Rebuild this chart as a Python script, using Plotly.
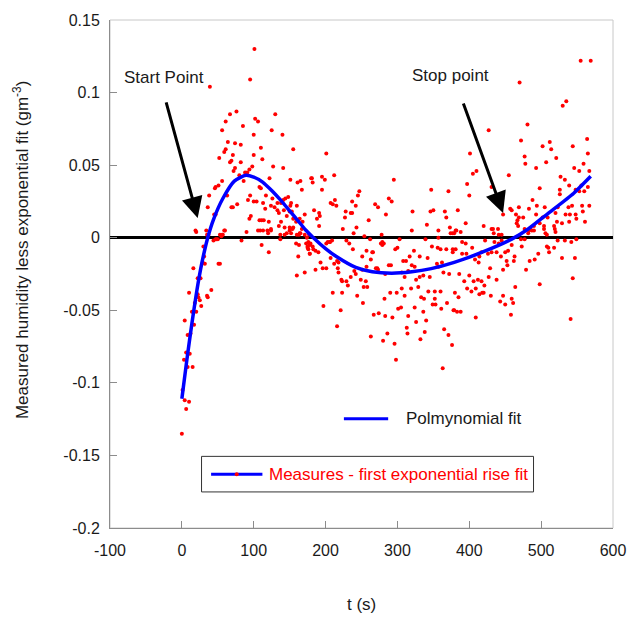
import plotly.graph_objects as go

# ---- data ----
t_meas = [0,6,4,10,1,8,15,3,6,11,8,12,4,17,14,20,18,27,23,25,10,22,35,36,41,22,26,16,29,32,31,51,53,30,37,34,44,47,50,57,59,55,19,83,90,106,109,113,120,124,111,121,137,146,150,154,160,164,167,171,159,163,173,175,176,179,178,162,160,171,
          101,95,39,76,67,61,102,106,85,130,56,125,100,140,64,74,82,110,61,59,71,100,155,52,112,69,67,82,98,94,127,141,74,72,88,91,80,122,151,161,165,56,51,47,46,86,108,110,167,180,63,95,148,144,141,117,126,38,100,104,92,77,113,133,138,152,151,160,124,129,36,45,47,71,69,116,133,135,142,146,150,153,155,159,164,168,171,96,94,108,111,114,121,138,143,150,155,135,124,119,143,152,163,165,60,56,53,48,137,20,35,
          201,181,182,195,199,212,295,195,247,245,347,371,207,210,213,215,237,242,288,292,269,273,184,191,192,188,191,228,235,237,227,224,243,260,284,321,346,350,366,368,341,320,357,373,374,377,239,254,262,278,303,339,357,203,206,209,229,233,238,257,266,277,279,281,297,300,323,348,356,360,368,377,
          174,176,178,182,183,186,190,175,178,206,201,177,193,186,196,201,207,212,216,218,217,218,222,223,229,231,235,240,242,249,256,258,253,244,252,210,223,197,221,216,251,263,265,272,273,279,288,291,308,312,317,331,342,324,315,306,310,331,326,336,345,355,362,364,372,357,377,282,290,299,306,310,319,329,333,337,343,352,360,352,349,353,369,361,378,267,274,283,293,301,305,315,324,336,326,340,313,314,338,332,365,371,376,263,286,280,296,298,363,251,257,270,283,320,
          386,393,400,406,412,417,421,427,438,397,403,409,418,414,420,380,385,430,447,459,443,450,461,379,383,388,409,458,464,479,498,544,541,390,395,404,422,435,441,445,450,454,459,473,463,462,452,453,447,444,438,431,426,417,414,408,413,429,381,390,396,484,491,496,510,518,529,547,542,549,511,508,379,382,388,433,434,440,445,472,477,483,490,504,506,508,519,520,523,533,
          555,569,470,530,535,481,427,472,502,512,514,564,544,565,477,478,521,507,493,546,559,553,567,401,410,405,455,527,533,539,556,548,553,560,565,526,526,498,488,494,400,397,431,469,483,505,523,538,543,557,558,567,465,469,459,475,493,502,509,520,534,540,539,548,549,561,522,529,504,518,468,477,485,487,490,498,482,467,466,447,457,420,431,441,395,384,381]

y_meas = [-0.135,-0.118,-0.112,-0.113,-0.105,-0.089,-0.089,-0.084,-0.079,-0.080,-0.067,-0.066,-0.057,-0.060,-0.051,-0.051,-0.045,-0.047,-0.041,-0.043,-0.038,-0.039,-0.040,-0.041,-0.036,-0.028,-0.028,-0.021,-0.017,-0.018,-0.013,-0.018,-0.018,-0.006,0.002,0.005,-0.002,-0.001,-0.001,0.002,0.005,0.001,0.005,-0.002,0.004,0.005,0.005,0.005,0.003,0.005,-0.005,-0.010,0.002,0.003,0.005,0.006,0.002,0.003,0.006,0.002,-0.004,-0.005,-0.004,-0.006,-0.008,-0.004,-0.011,-0.013,-0.026,-0.024,
          0.130,0.109,0.104,0.087,0.085,0.080,0.082,0.080,0.077,0.085,0.074,0.074,0.071,0.071,0.066,0.065,0.064,0.062,0.061,0.059,0.057,0.057,0.061,0.055,0.054,0.053,0.052,0.052,0.049,0.047,0.049,0.048,0.048,0.046,0.045,0.045,0.043,0.041,0.040,0.038,0.039,0.039,0.036,0.035,0.034,0.039,0.035,0.034,0.033,0.041,0.029,0.029,0.028,0.027,0.026,0.029,0.027,0.029,0.025,0.025,0.026,0.023,0.024,0.024,0.024,0.024,0.022,0.022,0.022,0.021,0.021,0.016,0.016,0.021,0.021,0.020,0.019,0.017,0.019,0.015,0.018,0.018,0.013,0.011,0.013,0.011,0.016,0.015,0.013,0.012,0.012,0.012,0.011,0.011,0.007,0.007,0.007,0.008,0.006,0.005,0.002,0.003,0.002,0.003,0.005,0.002,0.002,-0.001,-0.001,0.004,0.002,
          0.058,0.041,0.038,0.042,0.040,0.043,0.040,0.033,0.032,0.029,0.033,0.032,0.024,0.023,0.026,0.022,0.025,0.022,0.027,0.025,0.023,0.021,0.019,0.017,0.015,0.013,0.008,0.018,0.017,0.017,0.014,0.006,0.007,0.012,0.016,0.018,0.018,0.019,0.018,0.014,0.009,0.005,0.005,0.007,0.003,0.003,0.003,0.001,-0.001,0.002,-0.001,-0.001,0.000,-0.003,-0.003,-0.002,-0.002,-0.004,-0.008,-0.009,-0.010,-0.004,-0.005,-0.004,-0.008,-0.007,-0.009,-0.006,-0.007,-0.008,-0.008,-0.008,
          0.000,-0.003,-0.005,-0.006,-0.008,-0.009,-0.010,-0.007,-0.011,-0.003,-0.004,0.002,-0.017,-0.022,-0.021,-0.021,-0.014,-0.018,-0.016,-0.017,-0.021,-0.024,-0.029,-0.030,-0.030,-0.033,-0.027,-0.023,-0.025,-0.029,-0.030,-0.034,-0.034,-0.040,-0.045,-0.038,-0.038,-0.047,-0.050,-0.061,-0.013,-0.015,-0.010,-0.021,-0.022,-0.003,-0.019,-0.019,-0.016,-0.016,-0.013,-0.013,-0.014,-0.020,-0.023,-0.024,-0.027,-0.027,-0.029,-0.026,-0.027,-0.018,-0.017,-0.024,-0.025,-0.020,-0.010,-0.042,-0.038,-0.038,-0.035,-0.040,-0.035,-0.034,-0.041,-0.042,-0.037,-0.037,-0.037,-0.042,-0.046,-0.046,-0.045,-0.049,-0.050,-0.053,-0.052,-0.054,-0.055,-0.049,-0.048,-0.054,-0.048,-0.051,-0.058,-0.057,-0.062,-0.066,-0.065,-0.070,-0.063,-0.067,-0.074,-0.068,-0.066,-0.071,-0.073,-0.084,-0.090,-0.022,-0.020,-0.021,-0.025,-0.019,
          -0.025,-0.030,-0.026,-0.030,-0.029,-0.030,-0.033,-0.027,-0.029,-0.035,-0.037,-0.035,-0.038,-0.039,-0.038,-0.038,-0.041,-0.040,-0.040,-0.042,-0.044,-0.046,-0.045,-0.050,-0.051,-0.051,-0.055,-0.053,-0.034,-0.022,-0.032,-0.028,-0.056,-0.003,-0.004,-0.007,-0.002,-0.003,-0.004,-0.002,-0.010,-0.009,-0.005,-0.006,-0.013,-0.016,-0.016,-0.019,-0.022,-0.013,-0.010,-0.010,-0.011,-0.010,-0.013,-0.015,-0.017,-0.021,-0.008,-0.011,-0.011,-0.016,-0.015,-0.011,-0.007,-0.007,-0.014,-0.014,-0.003,-0.001,-0.010,-0.006,0.003,0.005,0.004,0.006,0.003,0.006,0.002,-0.001,-0.001,0.005,0.005,0.006,0.003,0.002,0.006,0.004,-0.002,-0.002,
          0.122,0.122,0.107,0.091,0.094,0.078,0.074,0.067,0.063,0.066,0.061,0.068,0.063,0.058,0.056,0.051,0.055,0.052,0.048,0.048,0.051,0.046,0.046,0.058,0.046,0.044,0.043,0.042,0.040,0.036,0.036,0.033,0.032,0.032,0.035,0.033,0.030,0.034,0.026,0.022,0.029,0.037,0.035,0.021,0.020,0.021,0.021,0.021,0.022,0.022,0.018,0.022,0.016,0.014,0.019,0.014,0.016,0.014,0.014,0.017,0.016,0.016,0.011,0.016,0.013,0.011,0.011,0.010,0.008,0.008,0.008,0.006,0.006,0.005,0.008,0.010,0.003,0.012,0.010,0.016,0.020,0.008,0.006,0.002,0.010,0.019,0.005]

t_fit = [0, 7, 14, 21, 28, 36, 44, 57, 73, 89, 100, 112, 125, 139, 150, 162, 172, 183, 200, 215, 242, 265, 292, 320, 347, 379, 418, 459, 482, 509, 545, 569]
y_fit = [-0.111, -0.084, -0.059, -0.036, -0.017, 0.000, 0.0125, 0.027, 0.039, 0.043, 0.0418, 0.0385, 0.0325, 0.0250, 0.0185, 0.0115, 0.0055, 0.000, -0.0075, -0.0130, -0.0205, -0.0235, -0.0245, -0.0235, -0.0213, -0.0170, -0.0100, -0.0010, 0.0060, 0.0165, 0.0305, 0.0423]

x_ticks = [-100, 0, 100, 200, 300, 400, 500, 600]
x_tick_text = ["-100", "0", "100", "200", "300", "400", "500", "600"]
y_ticks = [-0.2, -0.15, -0.1, -0.05, 0, 0.05, 0.1, 0.15]
y_tick_text = ["-0.2", "-0.15", "-0.1", "-0.05", "0", "0.05", "0.1", "0.15"]

FONT = "Liberation Sans, Arial, sans-serif"
TXT = "#1a1a1a"
FS = 16     # tick labels
FT = 17     # other texts

fig = go.Figure()
fig.add_trace(go.Scatter(x=t_meas, y=y_meas, mode="markers",
                         marker=dict(color="#ff0000", size=4, line=dict(width=0)),
                         showlegend=False, hoverinfo="skip"))
fig.add_trace(go.Scatter(x=t_fit, y=y_fit, mode="lines",
                         line=dict(color="#0000ff", width=3.5, shape="spline", smoothing=0.6),
                         showlegend=False, hoverinfo="skip"))

axis_common = dict(showgrid=False, showline=True, linecolor="#8c8c8c", linewidth=1,
                   ticks="inside", ticklen=7, tickcolor="#8c8c8c", tickwidth=1,
                   tickfont=dict(family=FONT, size=FS, color=TXT))

fig.update_xaxes(range=[-100, 600], tickvals=x_ticks, ticktext=x_tick_text,
                 zeroline=False, ticklabelstandoff=8, **axis_common)
fig.update_yaxes(range=[-0.2, 0.15], tickvals=y_ticks, ticktext=y_tick_text,
                 zeroline=True, zerolinecolor="#000000", zerolinewidth=2.5,
                 ticklabelstandoff=6, **axis_common)

shapes = [
    dict(type="rect", xref="paper", yref="paper", x0=0, x1=1, y0=0, y1=1,
         line=dict(color="#c8c8c8", width=1), layer="below"),
    # polynomial legend line
    dict(type="line", xref="paper", yref="paper", x0=0.465, x1=0.553, y0=0.215, y1=0.215,
         line=dict(color="#0000ff", width=3)),
    # boxed legend
    dict(type="rect", xref="paper", yref="paper", x0=0.182, x1=0.842, y0=0.071, y1=0.141,
         line=dict(color="#333333", width=1), fillcolor="white"),
    dict(type="line", xref="paper", yref="paper", x0=0.201, x1=0.303, y0=0.106, y1=0.106,
         line=dict(color="#0000ff", width=3)),
    dict(type="circle", xref="paper", yref="paper", xsizemode="pixel", ysizemode="pixel",
         xanchor=0.252, yanchor=0.106, x0=-2, x1=2, y0=-2, y1=2,
         fillcolor="#ff0000", line=dict(width=0)),
]

annotations = [
    dict(x=22, y=0.0136, ax=-22.4, ay=0.0943, xref="x", yref="y", axref="x", ayref="y",
         text="", showarrow=True, arrowhead=2, arrowsize=1.4, arrowwidth=3, arrowcolor="#000000"),
    dict(x=447, y=0.0171, ax=391, ay=0.0935, xref="x", yref="y", axref="x", ayref="y",
         text="", showarrow=True, arrowhead=2, arrowsize=1.4, arrowwidth=3, arrowcolor="#000000"),
    dict(x=-25.4, y=0.1107, xref="x", yref="y", text="Start Point", showarrow=False,
         font=dict(family=FONT, size=FT, color=TXT)),
    dict(x=374.5, y=0.112, xref="x", yref="y", text="Stop point", showarrow=False,
         font=dict(family=FONT, size=FT, color=TXT)),
    dict(x=0.584, y=0.215, xref="paper", yref="paper", text="Polmynomial fit", showarrow=False,
         xanchor="left", yanchor="middle", font=dict(family=FONT, size=FT, color=TXT)),
    dict(x=0.3125, y=0.106, xref="paper", yref="paper", text="Measures - first exponential rise fit",
         showarrow=False, xanchor="left", yanchor="middle",
         font=dict(family=FONT, size=FT, color="#ff0000")),
    dict(x=0.5, y=-0.150, xref="paper", yref="paper", text="t (s)", showarrow=False,
         xanchor="center", yanchor="middle", font=dict(family=FONT, size=FT, color=TXT)),
    dict(x=-0.178, y=0.548, xref="paper", yref="paper",
         text="Measured humidity less exponential fit (gm<sup>-3</sup>)", textangle=-90,
         showarrow=False, xanchor="center", yanchor="middle",
         font=dict(family=FONT, size=FT, color=TXT)),
]

fig.update_layout(width=638, height=617, margin=dict(l=110, r=16, t=15, b=89),
                  paper_bgcolor="white", plot_bgcolor="white", showlegend=False,
                  shapes=shapes, annotations=annotations,
                  font=dict(family=FONT, size=FS, color=TXT))

fig.write_html("out.html")
